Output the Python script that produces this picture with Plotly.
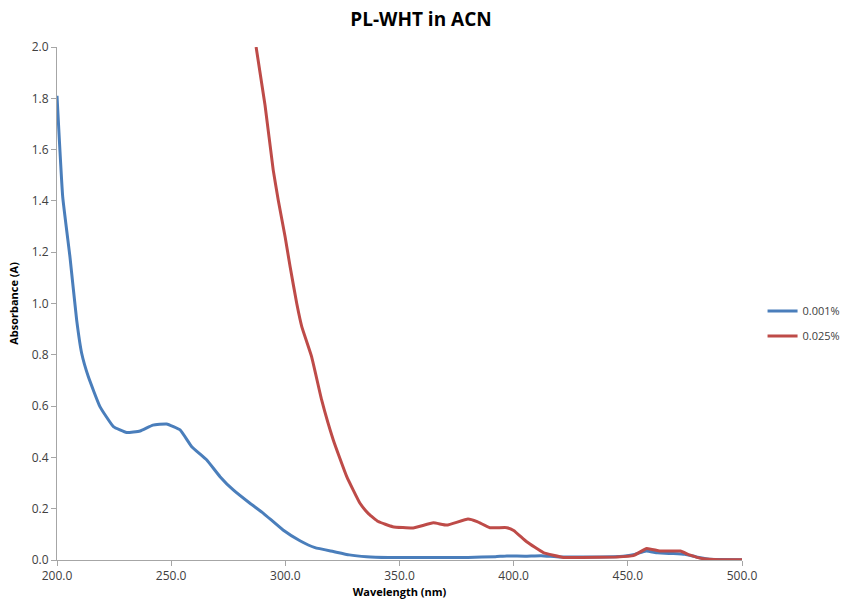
import plotly.graph_objects as go

# 0.001% series (blue)
wl_blue = [200, 202.5, 205.7, 208.6, 210.8, 213.7, 218.8, 224.7, 230.5, 236.4, 242, 248,
           253.9, 259, 265.6, 271.4, 277.2, 284.5, 290.4, 299, 306.4, 313, 321, 328, 335.6,
           345, 360, 380, 392, 397, 405, 412, 420, 435, 448, 453, 458, 463, 470, 475, 480,
           485, 490, 500]
abs_blue = [1.81, 1.416, 1.18, 0.936, 0.806, 0.715, 0.598, 0.52, 0.497, 0.503, 0.526, 0.53,
            0.507, 0.442, 0.39, 0.325, 0.273, 0.221, 0.182, 0.117, 0.075, 0.048, 0.033, 0.02,
            0.013, 0.01, 0.01, 0.01, 0.013, 0.016, 0.015, 0.017, 0.012, 0.012, 0.015, 0.022,
            0.035, 0.028, 0.025, 0.022, 0.012, 0.004, 0.002, 0.001]

# 0.025% series (red)
wl_red = [287.2, 291.1, 294.7, 296.9, 299.9, 302.1, 305, 307.2, 311.5, 315.9, 321, 326.9,
          332.7, 336.5, 340.7, 347, 356, 364.8, 370.7, 380, 384, 389.6, 397, 400, 405.7, 413,
          421.8, 430, 445, 452.4, 458.3, 464, 473, 477, 483, 490, 500]
abs_red = [2.0, 1.774, 1.52, 1.403, 1.26, 1.143, 1.0, 0.91, 0.793, 0.624, 0.468, 0.325,
           0.221, 0.18, 0.15, 0.13, 0.125, 0.145, 0.136, 0.16, 0.15, 0.126, 0.126, 0.115, 0.071,
           0.029, 0.01, 0.01, 0.012, 0.017, 0.045, 0.035, 0.035, 0.02, 0.005, 0.001, 0.001]

x_ticks = [200, 250, 300, 350, 400, 450, 500]
y_ticks = [0.0, 0.2, 0.4, 0.6, 0.8, 1.0, 1.2, 1.4, 1.6, 1.8, 2.0]

fig = go.Figure()
fig.add_trace(go.Scatter(x=wl_blue, y=abs_blue, mode="lines", name="0.001%", legendgroup="a",
                         line=dict(color="#4A7EBB", width=3, shape="spline", smoothing=0.35)))
fig.add_trace(go.Scatter(x=wl_red, y=abs_red, mode="lines", name="0.025%", legendgroup="b",
                         line=dict(color="#BE4B48", width=3, shape="spline", smoothing=0.35)))

font_family = "Open Sans, DejaVu Sans, sans-serif"
fig.update_layout(
    width=842, height=602,
    margin=dict(l=57, r=100, t=47, b=42, autoexpand=False),
    paper_bgcolor="white", plot_bgcolor="white",
    font=dict(family=font_family, size=12, color="#404040"),
    title=dict(text="<b>PL-WHT in ACN</b>", x=0.5, xanchor="center", y=0.979, yanchor="top",
               font=dict(size=19, color="#000000")),
    showlegend=True,
    legend=dict(x=1.03, xanchor="left", y=0.461, yanchor="middle",
                font=dict(size=11, color="#404040"), tracegroupgap=6,
                bgcolor="rgba(0,0,0,0)"),
    xaxis=dict(range=[200, 500], tickvals=x_ticks, tickformat=".1f",
               showgrid=False, zeroline=False, showline=True, linecolor="#A6A6A6",
               linewidth=1, ticks="outside", ticklen=5, tickcolor="#A6A6A6",
               tickfont=dict(size=12, color="#404040"),
               title=dict(text="<b>Wavelength (nm)</b>", font=dict(size=11, color="#000000"),
                          standoff=4)),
    yaxis=dict(range=[0, 2.0], tickvals=y_ticks, tickformat=".1f",
               showgrid=False, zeroline=False, showline=True, linecolor="#A6A6A6",
               linewidth=1, ticks="outside", ticklen=5, tickcolor="#A6A6A6",
               tickfont=dict(size=12, color="#404040"),
               title=dict(text="<b>Absorbance (A)</b>", font=dict(size=11, color="#000000"),
                          standoff=10)),
)

fig.write_html("out.html", config={"displayModeBar": False},
               post_script="document.body.style.margin='0';document.body.style.overflow='hidden';")
